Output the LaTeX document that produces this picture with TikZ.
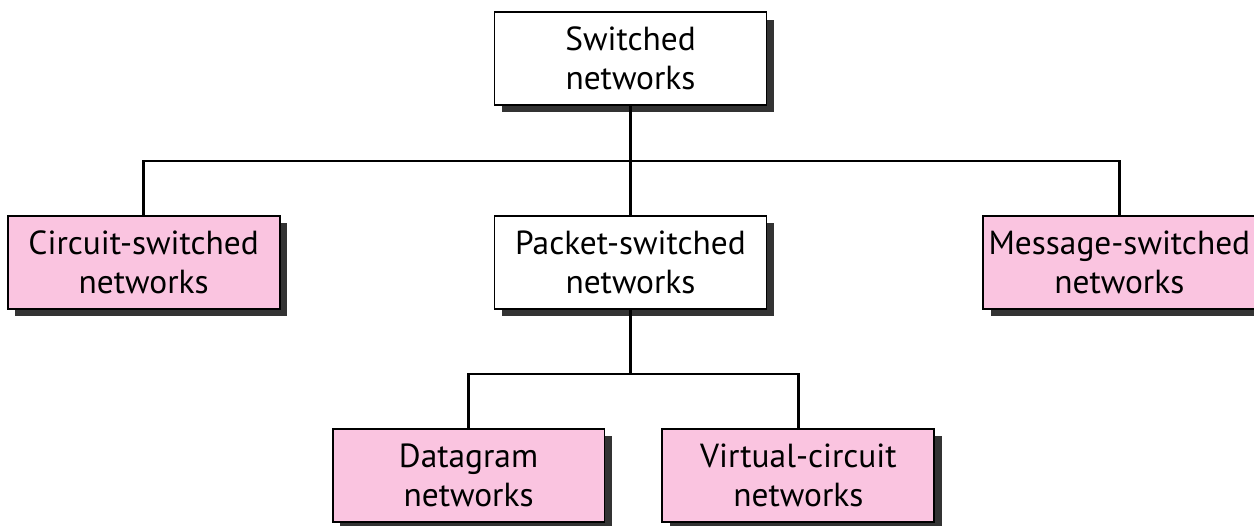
\documentclass[tikz,border=0pt]{standalone}
\usepackage{fontspec}
\setmainfont{PT Sans}
\usetikzlibrary{positioning,shadows}
\definecolor{netpink}{RGB}{250,196,224}

\begin{document}
\begin{tikzpicture}[x=0.02cm,y=-0.02cm,
    netbox/.style={draw=black,line width=1.1pt,fill=white,align=center,
      minimum width=5.44cm,minimum height=1.86cm,inner sep=0pt,
      font=\fontsize{19}{22}\selectfont,
      drop shadow={shadow xshift=0.15cm,shadow yshift=-0.15cm,fill=black!80,opacity=1}},
    leaf/.style={netbox,fill=netpink},
    link/.style={line width=1.5pt}]
      \useasboundingbox (0,0) rectangle (1254,525);
      % top level
      \node[netbox] (switched) at (630.5,58.5) {Switched\\networks};
      \node[netbox,below=2.18cm of switched] (packet) {Packet-switched\\networks};
      \node[leaf,left=4.26cm of packet] (circuit) {Circuit-switched\\networks};
      \node[leaf,right=4.3cm of packet] (message) {Message-switched\\networks};
      % second level
      \node[leaf,below=2.36cm of packet,xshift=-3.24cm] (datagram) {Datagram\\networks};
      \node[leaf,right=1.12cm of datagram] (virtual) {Virtual-circuit\\networks};

      \coordinate[below=1.1cm of switched.south] (fork);
      \coordinate[below=1.28cm of packet.south] (subfork);

      \draw[link] (switched) -- (packet);
      \draw[link] (circuit.north) |- (fork) -| (message.north);
      \draw[link] (packet) -- (subfork);
      \draw[link] (datagram.north) |- (subfork) -| (virtual.north);
    \end{tikzpicture}
\end{document}
